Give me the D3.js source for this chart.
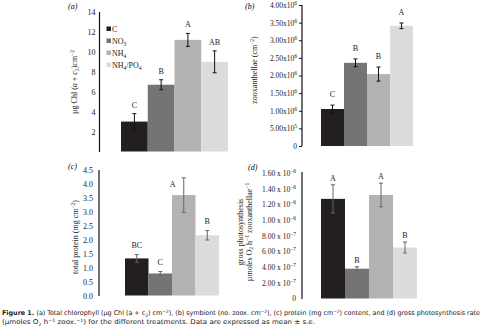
<!DOCTYPE html>
<html>
<head>
<meta charset="utf-8">
<script src="https://cdnjs.cloudflare.com/ajax/libs/d3/7.8.5/d3.min.js"></script>
<style>
  body { margin: 0; background: #fff; }
  svg { display: block; }
  .tick text, .lbl { font-family: "Liberation Serif", "DejaVu Serif", serif; }
  .cap { font-family: "Liberation Sans Narrow", "DejaVu Sans Condensed", "Liberation Sans", sans-serif; }
</style>
</head>
<body>
<div id="chart"></div>
<script>
// treatments and measured values (mean, s.e.)
const treatments = ["C", "NO3", "NH4", "NH4/PO4"];
const colors = ["#231f20", "#747476", "#b3b3b4", "#dcdcdd"];

const chl = [3.0, 6.7, 11.2, 9.0];
const chlErr = [0.8, 0.5, 0.65, 1.1];
const chlLetters = ["C", "B", "A", "AB"];
const chlTicks = [2, 4, 6, 8, 10, 12, 14];

const zoox = [1.05e6, 2.36e6, 2.04e6, 3.41e6];
const zooxErr = [0.11e6, 0.11e6, 0.2e6, 0.08e6];
const zooxLetters = ["C", "B", "B", "A"];
const zooxTicks = [0, 0.5e6, 1e6, 1.5e6, 2e6, 2.5e6, 3e6, 3.5e6, 4e6];

const protein = [1.33, 0.79, 3.6, 2.16];
const proteinErr = [0.14, 0.07, 0.62, 0.17];
const proteinLetters = ["BC", "C", "A", "B"];
const proteinTicks = [0, 0.5, 1, 1.5, 2, 2.5, 3, 3.5, 4, 4.5];

const photo = [1.27e-6, 3.8e-7, 1.32e-6, 6.5e-7];
const photoErr = [1.8e-7, 2.5e-8, 1.5e-7, 7e-8];
const photoLetters = ["A", "B", "A", "B"];
const photoTicks = [0, 2e-7, 4e-7, 6e-7, 8e-7, 1e-6, 1.2e-6, 1.4e-6, 1.6e-6];

const W = 484, H = 332;
const svg = d3.select("#chart").append("svg").attr("width", W).attr("height", H);

// tick label with a power of ten as superscript
function sciLabel(sel, sep) {
  sel.each(function (d) {
    const t = d3.select(this);
    if (d === 0) { t.text("0"); return; }
    const e = Math.floor(Math.log10(d) + 1e-9);
    const m = d / Math.pow(10, e);
    t.text(null);
    t.append("tspan").text(m.toFixed(2) + sep + "10");
    t.append("tspan").attr("dy", -3).attr("font-size", "5.5px").text(e < 0 ? "\u2212" + (-e) : e);
  });
}

function panel(o) {
  const g = svg.append("g");
  const y = d3.scaleLinear().domain(o.domain).range(o.yRange);
  const x = d3.scaleBand().domain(treatments).range(o.xRange).padding(0);

  const axis = d3.axisLeft(y).tickValues(o.ticks).tickSizeOuter(0)
    .tickSize(o.tickSize).tickPadding(o.pad);
  const ax = g.append("g").attr("transform", `translate(${o.axisX},0)`).call(axis);
  ax.select(".domain").attr("stroke", "#111").attr("stroke-width", 1.2)
    .attr("d", `M0,${o.axisTop}V${o.axisBottom}`);
  ax.selectAll(".tick line").attr("stroke", "#111");
  ax.selectAll(".tick text").attr("font-size", o.tickFont).attr("fill", "#222");
  if (o.sci) ax.selectAll(".tick text").call(sciLabel, o.sci);

  g.selectAll("rect.bar").data(o.values).join("rect")
    .attr("class", "bar")
    .attr("x", (d, i) => x(treatments[i]))
    .attr("width", x.bandwidth())
    .attr("y", d => y(d))
    .attr("height", d => y(0) - y(d))
    .attr("fill", (d, i) => colors[i]);

  // error bars
  const eb = g.selectAll("g.err").data(o.values).join("g").attr("class", "err")
    .attr("stroke", o.errColor).attr("stroke-width", 1);
  eb.append("line")
    .attr("x1", (d, i) => x(treatments[i]) + x.bandwidth() / 2)
    .attr("x2", (d, i) => x(treatments[i]) + x.bandwidth() / 2)
    .attr("y1", (d, i) => y(d + o.err[i]))
    .attr("y2", (d, i) => y(d - o.err[i]));
  [1, -1].forEach(s => {
    eb.append("line")
      .attr("x1", (d, i) => x(treatments[i]) + x.bandwidth() / 2 - 2)
      .attr("x2", (d, i) => x(treatments[i]) + x.bandwidth() / 2 + 2)
      .attr("y1", (d, i) => y(d + s * o.err[i]))
      .attr("y2", (d, i) => y(d + s * o.err[i]));
  });

  // significance letters
  g.selectAll("text.sig").data(o.letters).join("text")
    .attr("class", "lbl sig")
    .attr("text-anchor", "middle")
    .attr("font-size", "8px")
    .attr("fill", "#222")
    .attr("x", (d, i) => x(treatments[i]) + x.bandwidth() / 2 + (o.dx ? o.dx[i] : 0))
    .attr("y", (d, i) => o.dy && o.dy[i] ? y(o.values[i]) + o.dy[i] : y(o.values[i] + o.err[i]) - o.gap)
    .text(d => d);

  // panel tag
  g.append("text").attr("class", "lbl").attr("x", o.tag[0]).attr("y", o.tag[1])
    .attr("font-size", "8px").attr("font-style", "italic").text(o.tagText);

  // y title
  const tt = g.append("text").attr("class", "lbl")
    .attr("transform", `translate(${o.title[0]},${o.title[1]}) rotate(-90)`)
    .attr("text-anchor", "middle").attr("font-size", "8px").attr("fill", "#222");
  o.titleParts(tt);
  return g;
}

panel({
  values: chl, err: chlErr, letters: chlLetters, ticks: chlTicks,
  domain: [0, 14], yRange: [151.5, 12], xRange: [121, 228],
  axisX: 99.5, axisTop: 12, axisBottom: 152, tickSize: 0, pad: 4, tickFont: "8px",
  errColor: "#111", gap: 6, tag: [68, 9], tagText: "(a)",
  title: [77, 82],
  titleParts: t => {
    t.append("tspan").text("\u00b5g Chl (");
    t.append("tspan").attr("font-style", "italic").text("a");
    t.append("tspan").text(" + ");
    t.append("tspan").attr("font-style", "italic").text("c");
    t.append("tspan").attr("font-size", "5.5px").attr("dy", 1.5).text("2");
    t.append("tspan").attr("dy", -1.5).text(")cm");
    t.append("tspan").attr("font-size", "5.5px").attr("dy", -3).text("\u22122");
  }
});

panel({
  values: zoox, err: zooxErr, letters: zooxLetters, ticks: zooxTicks,
  domain: [0, 4e6], yRange: [146, 5], xRange: [321, 413],
  axisX: 302, axisTop: 5, axisBottom: 146, tickSize: 3, pad: 2, sci: "x", tickFont: "7.5px",
  errColor: "#111", gap: 8, tag: [245, 9], tagText: "(b)",
  title: [257, 70],
  titleParts: t => {
    t.append("tspan").text("zooxanthellae (cm");
    t.append("tspan").attr("font-size", "5.5px").attr("dy", -3).text("\u22122");
    t.append("tspan").attr("dy", 3).text(")");
  }
});

panel({
  values: protein, err: proteinErr, letters: proteinLetters, ticks: proteinTicks,
  domain: [0, 4.5], yRange: [295.5, 170], xRange: [125, 219],
  axisX: 99, axisTop: 170, axisBottom: 296, tickSize: 0, pad: 6, tickFont: "8px",
  errColor: "#666", gap: 7, dx: [0, 0, -11, 0], dy: [0, 0, -8, 0],
  tag: [68, 169], tagText: "(c)",
  title: [78, 237],
  titleParts: t => {
    t.append("tspan").text("total protein (mg cm");
    t.append("tspan").attr("font-size", "5.5px").attr("dy", -3).text("\u22122");
    t.append("tspan").attr("dy", 3).text(")");
  }
});

panel({
  values: photo, err: photoErr, letters: photoLetters, ticks: photoTicks,
  domain: [0, 1.6e-6], yRange: [298.5, 173], xRange: [321, 417],
  axisX: 302, axisTop: 172, axisBottom: 299, tickSize: 0, pad: 6, sci: " x ", tickFont: "7.5px",
  errColor: "#666", gap: 4, tag: [248, 170], tagText: "(d)",
  title: [243, 232],
  titleParts: t => {
    t.append("tspan").attr("x", 0).text("gross photosynthesis");
    t.append("tspan").attr("x", 0).attr("dy", 8.5).text("\u00b5moles O");
    t.append("tspan").attr("font-size", "5.5px").attr("dy", 1.5).text("2");
    t.append("tspan").attr("dy", -1.5).text(" h");
    t.append("tspan").attr("font-size", "5.5px").attr("dy", -3).text("\u22121");
    t.append("tspan").attr("dy", 3).text(" zooxanthellae");
    t.append("tspan").attr("font-size", "5.5px").attr("dy", -3).text("\u22121");
  }
});

// legend in panel (a)
const leg = svg.append("g");
treatments.forEach((name, i) => {
  const yy = 29 + i * 12;
  leg.append("rect").attr("x", 106.5).attr("y", yy - 2.5).attr("width", 4.5).attr("height", 4.5)
    .attr("fill", colors[i]);
  const t = leg.append("text").attr("class", "lbl").attr("x", 112).attr("y", yy + 2.8)
    .attr("font-size", "8px").attr("fill", "#222");
  if (name === "C") t.text("C");
  else if (name === "NO3") {
    t.append("tspan").text("NO");
    t.append("tspan").attr("font-size", "5.5px").attr("dy", 2).text("3");
  } else if (name === "NH4") {
    t.append("tspan").text("NH");
    t.append("tspan").attr("font-size", "5.5px").attr("dy", 2).text("4");
  } else {
    t.append("tspan").text("NH");
    t.append("tspan").attr("font-size", "5.5px").attr("dy", 2).text("4");
    t.append("tspan").attr("dy", -2).text("/PO");
    t.append("tspan").attr("font-size", "5.5px").attr("dy", 2).text("4");
  }
});

// caption
const c1 = svg.append("text").attr("class", "cap").attr("x", 2).attr("y", 315)
  .attr("font-size", "6.6px").attr("fill", "#222")
  .attr("textLength", 478).attr("lengthAdjust", "spacingAndGlyphs");
c1.append("tspan").attr("font-weight", "bold").text("Figure 1. ");
c1.append("tspan").text("(a) Total chlorophyll (\u00b5g Chl (a + c");
c1.append("tspan").attr("font-size", "4.5px").attr("dy", 1.5).text("2");
c1.append("tspan").attr("dy", -1.5).text(") cm");
c1.append("tspan").attr("font-size", "4.5px").attr("dy", -2.5).text("\u22122");
c1.append("tspan").attr("dy", 2.5).text("), (b) symbiont (no. zoox. cm");
c1.append("tspan").attr("font-size", "4.5px").attr("dy", -2.5).text("\u22122");
c1.append("tspan").attr("dy", 2.5).text("), (c) protein (mg cm");
c1.append("tspan").attr("font-size", "4.5px").attr("dy", -2.5).text("\u22122");
c1.append("tspan").attr("dy", 2.5).text(") content, and (d) gross photosynthesis rate");

const c2 = svg.append("text").attr("class", "cap").attr("x", 2).attr("y", 324)
  .attr("font-size", "6.6px").attr("fill", "#222")
  .attr("textLength", 313).attr("lengthAdjust", "spacingAndGlyphs");
c2.append("tspan").text("(\u00b5moles O");
c2.append("tspan").attr("font-size", "4.5px").attr("dy", 1.5).text("2");
c2.append("tspan").attr("dy", -1.5).text(" h");
c2.append("tspan").attr("font-size", "4.5px").attr("dy", -2.5).text("\u22121");
c2.append("tspan").attr("dy", 2.5).text(" zoox.");
c2.append("tspan").attr("font-size", "4.5px").attr("dy", -2.5).text("\u22121");
c2.append("tspan").attr("dy", 2.5).text(") for the different treatments. Data are expressed as mean \u00b1 s.e.");
</script>
</body>
</html>
